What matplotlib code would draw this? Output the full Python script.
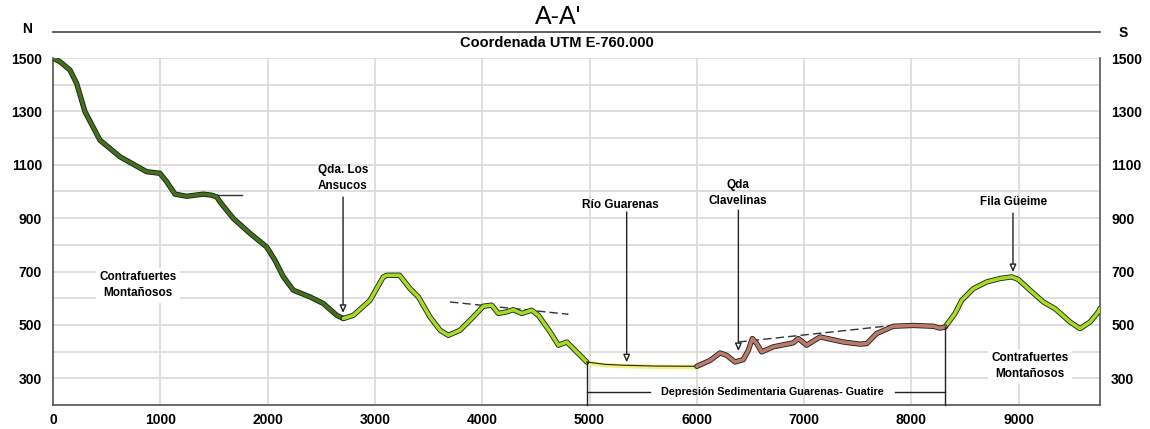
import numpy as np
import matplotlib
matplotlib.use('Agg')
import matplotlib.pyplot as plt
import matplotlib.patheffects as pe
from matplotlib.lines import Line2D

plt.rcParams['font.family'] = ['Liberation Sans', 'DejaVu Sans']
plt.rcParams['font.weight'] = 'bold'

# === PROFILE DATA (distance m, elevation m) ===
# tramo 1: contrafuertes montañosos (verde oscuro)
x_seg1 = [0, 65, 158, 220, 298, 438, 624, 873, 997, 1060, 1137, 1246, 1400, 1479,
          1525, 1556, 1680, 1836, 1991, 2069, 2147, 2240, 2395, 2520, 2644, 2706]
y_seg1 = [1500, 1486, 1455, 1405, 1299, 1192, 1130, 1074, 1068, 1036, 990, 982, 990, 986,
          980, 961, 899, 843, 792, 742, 680, 630, 605, 580, 536, 524]
# tramo 2: verde claro
x_seg2 = [2706, 2799, 2954, 3078, 3110, 3230, 3327, 3405, 3513, 3607, 3684, 3793, 3917,
          4010, 4088, 4150, 4228, 4290, 4368, 4461, 4523, 4632, 4710, 4788, 4850, 4974]
y_seg2 = [524, 536, 592, 680, 686, 686, 636, 605, 530, 480, 461, 480, 530,
          570, 574, 543, 549, 557, 543, 555, 536, 474, 424, 436, 411, 361]
# tramo 3: depresion (amarillo)
x_seg3 = [4974, 5150, 5315, 5600, 6000]
y_seg3 = [361, 352, 349, 346, 345]
# tramo 4: marron
x_seg4 = [6000, 6123, 6216, 6278, 6356, 6433, 6480, 6517, 6558, 6604, 6713, 6899, 6946,
          7024, 7148, 7365, 7521, 7583, 7676, 7831, 8017, 8204, 8266, 8313]
y_seg4 = [345, 367, 395, 386, 361, 370, 405, 449, 430, 399, 418, 433, 449,
          424, 455, 436, 428, 430, 468, 495, 498, 495, 488, 492]
# tramo 5: verde claro
x_seg5 = [8313, 8406, 8468, 8577, 8701, 8826, 8935, 8997, 9105, 9229, 9338, 9478,
          9571, 9664, 9742, 9757]
y_seg5 = [492, 543, 592, 636, 661, 674, 680, 670, 630, 586, 561, 511,
          486, 511, 549, 562]

# dashed trend lines (x0, y0, x1, y1)
trend_lines = [(1420, 988, 1765, 988), (3700, 586, 4803, 540), (6387, 436, 7800, 497)]

x_ticks = [0, 1000, 2000, 3000, 4000, 5000, 6000, 7000, 8000, 9000]
y_ticks = [300, 500, 700, 900, 1100, 1300, 1500]

# annotation: label, text x, text y, arrow x, arrow top, arrow tip
arrows = [("Qda. Los\nAnsucos", 2703, 1050, 2703, 979, 545),
          ("Río Guarenas", 5284, 949, 5346, 923, 360),
          ("Qda\nClavelinas", 6384, 994, 6387, 930, 402),
          ("Fila Güeime", 8947, 960, 8946, 919, 698)]

fig = plt.figure(figsize=(11.5, 4.29), dpi=100)
ax = fig.add_axes([53 / 1150, 24 / 429, 1047 / 1150, 347 / 429])

ax.set_xlim(0, 9757)
ax.set_ylim(200, 1500)

# grid
ax.set_xticks(x_ticks)
ax.set_yticks(y_ticks)
ax.set_yticks(np.arange(200, 1501, 100), minor=True)
ax.grid(True, which='both', color='#dcdcdc', lw=1.3, zorder=0)
ax.set_axisbelow(True)
ax.tick_params(which='both', length=0, labelsize=10, labelright=True)
ax.tick_params(axis='y', pad=8)
ax.tick_params(axis='x', pad=6)
for lab in ax.get_xticklabels() + ax.get_yticklabels():
    lab.set_fontweight('bold')
ax.spines['top'].set_visible(False)
for s in ['left', 'bottom', 'right']:
    ax.spines[s].set_color('#555555')
    ax.spines[s].set_linewidth(1.2)

# profile
outline = [pe.Stroke(linewidth=3.8, foreground='#1a1a1a'), pe.Normal()]
ax.plot(x_seg1, y_seg1, color='#41721a', lw=2.6, path_effects=outline, zorder=4,
        solid_capstyle='round')
ax.plot(x_seg2, y_seg2, color='#a4dc22', lw=2.6, path_effects=outline, zorder=4,
        solid_capstyle='round')
ax.plot(x_seg5, y_seg5, color='#a4dc22', lw=2.6, path_effects=outline, zorder=4,
        solid_capstyle='round')
ax.plot(x_seg3, np.array(y_seg3) - 3, color='#f2f27a', lw=3.2, zorder=3)
ax.plot(x_seg3, y_seg3, color='#222222', lw=0.8, zorder=4)
ax.plot(x_seg4, y_seg4, color='#bb7b68', lw=2.6, path_effects=outline, zorder=4,
        solid_capstyle='round')

# trend lines
for i, (x0, y0, x1, y1) in enumerate(trend_lines):
    ls = '-' if i == 0 else (0, (6, 3))
    ax.plot([x0, x1], [y0, y1], color='#333333', lw=1.0, ls=ls, zorder=3)

# arrows + labels
for label, tx, ty, axx, atop, atip in arrows:
    ax.text(tx, ty, label, ha='center', va='center', fontsize=8.5, fontweight='bold',
            linespacing=1.45, zorder=6)
    ax.annotate('', xy=(axx, atip), xytext=(axx, atop),
                arrowprops=dict(arrowstyle='-|>,head_length=0.45,head_width=0.2',
                                fc='white', ec='#222222', lw=1.0, shrinkA=0, shrinkB=0),
                zorder=6)

box = dict(boxstyle='square,pad=0.3', fc='white', ec='none')
ax.text(793, 649, "Contrafuertes\nMontañosos", ha='center', va='center', fontsize=8.5,
        fontweight='bold', linespacing=1.45, bbox=box, zorder=6)
ax.text(9105, 345, "Contrafuertes\nMontañosos", ha='center', va='center', fontsize=8.5,
        fontweight='bold', linespacing=1.45, bbox=box, zorder=6)

# depresion sedimentaria bracket
ax.plot([4974, 4974], [361, 200], color='#222222', lw=1.0, zorder=5, clip_on=False)
ax.plot([8313, 8313], [492, 200], color='#222222', lw=1.0, zorder=5, clip_on=False)
ax.plot([4974, 5564], [247, 247], color='#222222', lw=1.0, zorder=5)
ax.plot([7847, 8313], [247, 247], color='#222222', lw=1.0, zorder=5)
ax.text(6701, 247, "Depresión Sedimentaria Guarenas- Guatire", ha='center', va='center',
        fontsize=7.8, fontweight='bold', zorder=6)

# header
fig.add_artist(Line2D([53 / 1150, 1100 / 1150], [1 - 32 / 429, 1 - 32 / 429],
                      transform=fig.transFigure, color='#444444', lw=1.2))
fig.text(558 / 1150, 1 - 17 / 429, "A-A'", ha='center', va='center', fontsize=18,
         fontweight='normal')
fig.text(557 / 1150, 1 - 43 / 429, "Coordenada UTM E-760.000", ha='center', va='center',
         fontsize=10.5, fontweight='bold')
fig.text(27 / 1150, 1 - 29 / 429, "N", ha='center', va='center', fontsize=10, fontweight='bold')
fig.text(1123 / 1150, 1 - 33 / 429, "S", ha='center', va='center', fontsize=10, fontweight='bold')

fig.savefig('out.png', dpi=100)
